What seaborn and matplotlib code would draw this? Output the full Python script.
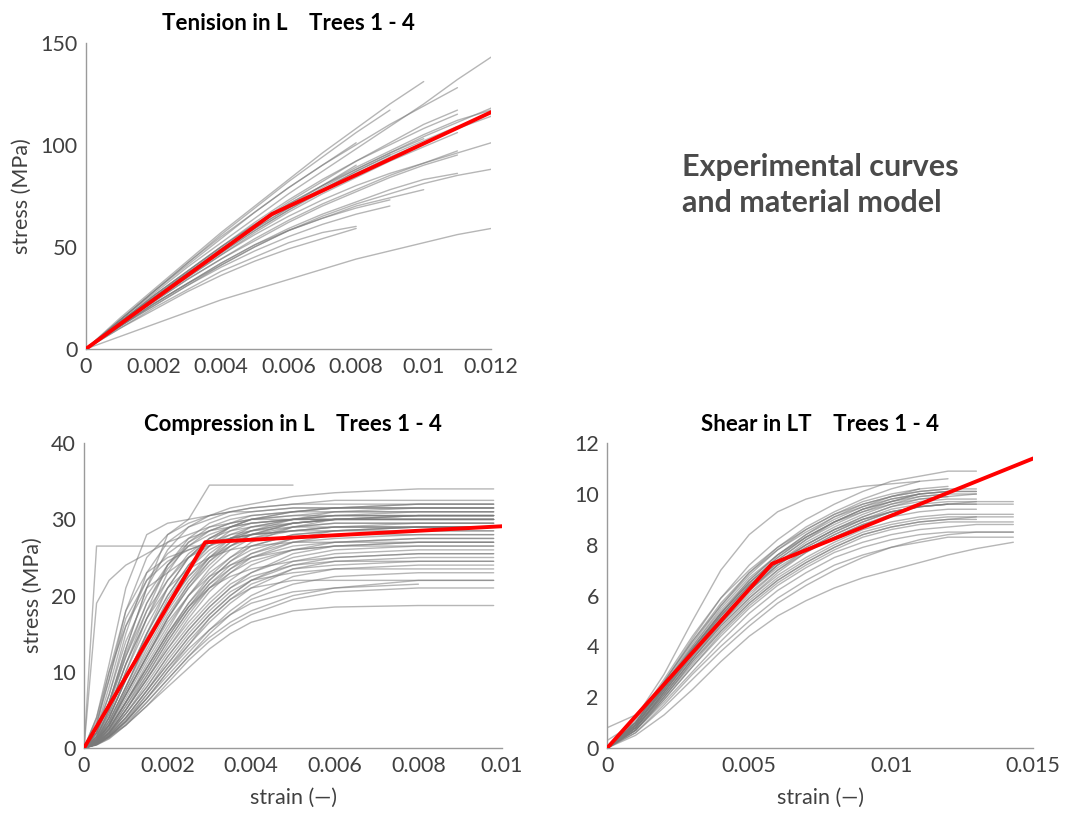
import numpy as np
import pandas as pd
import matplotlib
matplotlib.use("Agg")
import matplotlib.pyplot as plt
import seaborn as sns
from matplotlib.ticker import FormatStrFormatter

nan = np.nan

# --- Tension in L : stress (MPa) read at fixed strain points ---
tension_strain = [0, 0.001, 0.002, 0.003, 0.004, 0.005, 0.006, 0.007, 0.008, 0.009, 0.010, 0.011, 0.012]
tension_curves = [
    [0, 14, 27, 40, 52, 64, 76, 87, 98, 109, 120, 132, 143],
    [0, 15, 29, 43, 57, 70, 83, 96, 108, 120, 131, nan, nan],
    [0, 14, 28, 42, 55, 67, 79, 90, 100, 110, 119, 128, nan],
    [0, 14, 28, 42, 56, 69, 82, 94, 106, 117, nan, nan, nan],
    [0, 14, 28, 41, 54, 67, 79, 90, 101, nan, nan, nan, nan],
    [0, 13, 26, 38, 50, 61, 71, 80, 88, 96, 104, 111, 118],
    [0, 13, 26, 38, 50, 62, 73, 83, 92, 100, 108, 115, nan],
    [0, 13, 25, 37, 49, 60, 71, 80, 89, 97, 105, 112, 117],
    [0, 12, 25, 37, 48, 59, 69, 78, 87, 95, 102, 109, nan],
    [0, 12, 24, 36, 47, 58, 68, 77, 86, 94, 101, 108, 114],
    [0, 12, 24, 35, 46, 57, 67, 76, 84, 92, 99, 106, nan],
    [0, 13, 25, 37, 48, 59, 69, 79, 88, 96, 103, nan, nan],
    [0, 13, 25, 37, 49, 60, 70, 80, 90, nan, nan, nan, nan],
    [0, 12, 24, 35, 46, 56, 65, 73, 80, 86, 91, 96, 101],
    [0, 12, 23, 34, 44, 53, 62, 70, 77, 84, 90, 95, nan],
    [0, 12, 23, 34, 44, 54, 63, 71, 78, 85, 91, 97, nan],
    [0, 11, 21, 31, 41, 50, 58, 65, 71, 76, 81, 85, 88],
    [0, 11, 22, 32, 42, 51, 59, 66, 72, 78, 83, 86, nan],
    [0, 11, 22, 32, 41, 50, 58, 64, 70, 74, 78, nan, nan],
    [0, 11, 22, 32, 42, 51, 58, 64, 69, 73, nan, nan, nan],
    [0, 11, 21, 31, 40, 48, 55, 61, 66, 70, nan, nan, nan],
    [0, 10, 20, 29, 38, 45, 52, 57, 60, nan, nan, nan, nan],
    [0, 10, 19, 28, 36, 43, 49, 54, 59, nan, nan, nan, nan],
    [0, 6, 12, 18, 24, 29, 34, 39, 44, 48, 52, 56, 59],
    [0, 12, 24, 36, 47, 58, 68, 78, 87, 95, nan, nan, nan],
    [0, 13, 26, 38, 50, 61, 72, 82, 92, 101, 110, 117, nan],
]
tension_model_strain = [0, 0.0055, 0.012]
tension_model_stress = [0, 66, 116]

# --- Compression in L ---
comp_strain = [0, 0.0003, 0.0006, 0.001, 0.0015, 0.002, 0.0025, 0.003, 0.0035, 0.004, 0.005, 0.006, 0.008, 0.0098]
comp_curves = [
    [0, 4, 11, 21, 28, 29.5, 30, 30.5, 31, 31, 31.5, 31.5, 31.5, 31.5],
    [0, 19, 22, 24, 25.5, 27, 28, 29, 29.5, 30, 30, 30, 30, 30],
    [0, 2, 6, 13, 21, 28, 30, 34.5, 34.5, 34.5, 34.5, nan, nan, nan],
    [0, 26.5, 26.5, 26.5, 26.5, 26.5, 26.5, 26.5, nan, nan, nan, nan, nan, nan],
    [0, 3, 9, 18, 25, 28, 29.5, 30.5, 31, 31.5, 32, 32, 32, 32],
    [0, 2, 7, 15, 23, 27, 29, 30, 31, 31.5, 32, 32.5, 32.5, 32.5],
    [0, 2, 6, 13, 21, 26, 29, 30.5, 31.5, 32, 33, 33.5, 34, 34],
    [0, 1.5, 5, 11, 18, 24, 27.5, 29.5, 30.5, 31, 31.5, 31.5, 31.5, 31.5],
    [0, 1.5, 4.5, 10, 17, 23, 27, 29, 30, 30.5, 31, 31, 31, 31],
    [0, 1, 4, 9, 15, 21, 25, 27.5, 29, 30, 30.5, 30.5, 30.5, 30.5],
    [0, 1, 3.5, 8, 14, 19, 23.5, 26.5, 28.5, 29.5, 30, 30, 30, 30],
    [0, 1, 3, 7, 12, 17, 21.5, 25, 27.5, 29, 30, 30.5, 30.5, 30.5],
    [0, 1, 3, 7, 12, 17, 21, 24, 26.5, 28, 29.5, 30, 30, 30],
    [0, 0.8, 2.5, 6, 11, 15.5, 20, 23.5, 26, 27.5, 29, 29.5, 29.5, 29.5],
    [0, 0.8, 2.5, 6, 10, 14.5, 18.5, 22, 24.5, 26.5, 28, 28.5, 29, 29],
    [0, 0.7, 2, 5, 9, 13, 17, 20.5, 23, 25, 27, 28, 28.5, 28.5],
    [0, 0.7, 2, 5, 9, 13, 16.5, 19.5, 22, 24, 26, 27, 27.5, 27.5],
    [0, 0.6, 2, 4.5, 8, 12, 15.5, 18.5, 21, 23, 25.5, 26.5, 27, 27],
    [0, 0.6, 1.8, 4, 7.5, 11, 14.5, 17.5, 20, 22, 24.5, 25.5, 26, 26],
    [0, 0.5, 1.5, 3.5, 7, 10.5, 13.5, 16.5, 19, 21, 23.5, 24.5, 25, 25],
    [0, 0.5, 1.5, 3.5, 6.5, 9.5, 12.5, 15.5, 18, 20, 22.5, 23.5, 24, 24],
    [0, 0.5, 1.5, 3, 6, 9, 12, 14.5, 16.5, 18, 20, 21, 22, 22],
    [0, 0.4, 1.2, 3, 5.5, 8, 10.5, 13, 15, 16.5, 18, 18.5, 18.7, 18.7],
    [0, 0.5, 1.5, 3.5, 6.5, 10, 13, 15.5, 17.5, 19, 20.5, 21, 21.5, nan],
    [0, 1, 3.5, 8, 13.5, 18.5, 22.5, 25.5, 27.5, 28.5, 29.5, 30, 30.5, 30.5],
    [0, 1.5, 5, 11, 17, 22, 25.5, 27.5, 28.5, 29, 29.5, 30, 30, 30],
    [0, 1.2, 4, 9, 15, 20, 24, 26.5, 28, 29, 30, 30.5, 31, 31],
    [0, 2, 6, 12, 18, 22, 25, 27, 28, 28.5, 29, 29, 29, 29],
    [0, 0.8, 3, 7, 12, 16.5, 20, 22.5, 24, 25, 26, 26.5, 26.5, 26.5],
    [0, 0.7, 2.5, 6, 10.5, 15, 18.5, 21, 22.5, 23.5, 24.5, 25, 25.5, 25.5],
    [0, 2.5, 8, 16, 22, 25.5, 27.5, 28.5, 29, 29.5, 30, 30, 30, 30],
    [0, 3, 10, 18, 23, 25, 26, 27, 27.5, 28, 28.5, 28.5, 28.5, 28.5],
    [0, 1, 3, 7.5, 13, 18, 22, 25, 27, 28, 29, 29.5, 29.5, 29.5],
    [0, 0.6, 2, 5, 9.5, 14, 18, 21.5, 24, 25.5, 27, 27.5, 28, 28],
    [0, 0.5, 1.8, 4.5, 8, 12, 15.5, 18.5, 21, 22.5, 24, 24.5, 24.5, 24.5],
    [0, 0.5, 1.6, 4, 7.5, 11.5, 15, 18, 20.5, 22, 23, 23.5, 23.5, 23.5],
    [0, 1.5, 5, 11, 17, 21, 23.5, 25, 26, 26.5, 27, 27, 27, 27],
    [0, 1.2, 4, 9, 15, 20, 24, 27, 29, 30, 31, 31.5, 32, 32],
    [0, 0.9, 3, 7, 12, 17, 21, 24.5, 27, 28.5, 30, 31, 31.5, 31.5],
    [0, 4, 10, 16, 21, 23, 25, 26.5, 27.5, 28, 28.5, 29, 29, 29],
    [0, 0.4, 1.3, 3, 5.5, 8.5, 11.5, 14, 16, 17.5, 19.5, 20.5, 21, 21],
    [0, 0.5, 1.5, 3.5, 6.5, 10, 13.5, 17, 19.5, 21, 22, 22, 22, 22],
    [0, 1.2, 3.5, 8, 14, 19.5, 23.5, 26, 27.5, 28.5, 29.5, 30, 30.5, 30.5],
    [0, 0.9, 2.8, 6.5, 11.5, 16, 20, 23, 25, 26.5, 28, 28.5, 29, 29],
    [0, 0.7, 2.2, 5.5, 10, 14.5, 18.5, 21.5, 23.5, 25, 26.5, 27, 27.5, 27.5],
    [0, 0.6, 2, 5, 9, 13.5, 17.5, 21, 23.5, 25.5, 27.5, 28.5, 29, 29],
    [0, 1.8, 5.5, 12, 19, 24, 27, 28.5, 29.5, 30, 30.5, 31, 31, 31],
    [0, 1.4, 4.5, 10, 16, 21, 25, 27.5, 29, 30, 31, 31.5, 32, 32],
    [0, 0.8, 2.6, 6, 10.5, 15, 19, 22, 24.5, 26, 27.5, 28, 28, 28],
    [0, 0.5, 1.7, 4, 7.5, 11, 14.5, 17.5, 20, 22, 24, 25, 25.5, 25.5],
    [0, 0.6, 1.9, 4.5, 8.5, 12.5, 16, 19, 21.5, 23, 25, 26, 26.5, 26.5],
    [0, 2.5, 7, 14, 20, 24, 26.5, 28, 29, 29.5, 30, 30.5, 30.5, 30.5],
    [0, 3.5, 9, 17, 22, 24.5, 26, 27, 27.5, 28, 28.5, 29, 29.5, 29.5],
    [0, 1, 3.2, 7.5, 12.5, 17.5, 21.5, 24.5, 26.5, 28, 29.5, 30, 30, 30],
    [0, 0.7, 2.3, 5.5, 9.5, 14, 18, 21, 23, 24.5, 26, 26.5, 27, 27],
    [0, 0.5, 1.6, 3.8, 7, 10.5, 14, 17, 19.5, 21.5, 23.5, 24, 24.5, 24.5],
    [0, 1.3, 4, 9, 14.5, 19, 22.5, 25, 26.5, 27.5, 28.5, 29, 29, 29],
    [0, 2, 6, 12.5, 19, 23.5, 26.5, 28.5, 29.5, 30.5, 31, 31.5, 31.5, 31.5],
    [0, 0.8, 2.5, 6, 10.5, 15, 19, 22.5, 25, 27, 29, 30, 30.5, 30.5],
    [0, 0.45, 1.4, 3.3, 6, 9, 12, 15, 17.5, 19.5, 21.5, 22.5, 23, 23],
]
comp_model_strain = [0, 0.0029, 0.01]
comp_model_stress = [0, 27, 29.1]

# --- Shear in LT ---
shear_strain = [0, 0.001, 0.002, 0.003, 0.004, 0.005, 0.006, 0.007, 0.008, 0.009, 0.010, 0.011, 0.012, 0.013, 0.0143]
shear_curves = [
    [0, 1.2, 2.9, 5.0, 7.0, 8.4, 9.3, 9.8, 10.1, 10.3, 10.4, 10.5, nan, nan, nan],
    [0, 1.0, 2.6, 4.3, 5.9, 7.2, 8.2, 9.0, 9.6, 10.1, 10.5, 10.7, 10.9, 10.9, nan],
    [0, 1.0, 2.5, 4.1, 5.6, 6.9, 7.9, 8.7, 9.3, 9.8, 10.2, 10.5, 10.6, nan, nan],
    [0, 1.0, 2.5, 4.0, 5.4, 6.6, 7.6, 8.4, 9.0, 9.5, 9.9, 10.2, 10.3, nan, nan],
    [0, 0.9, 2.4, 3.9, 5.3, 6.5, 7.4, 8.2, 8.8, 9.3, 9.7, 10.0, 10.1, 10.1, nan],
    [0, 0.9, 2.3, 3.8, 5.2, 6.4, 7.3, 8.0, 8.6, 9.1, 9.5, 9.7, 9.8, 9.8, nan],
    [0, 0.9, 2.3, 3.7, 5.0, 6.2, 7.1, 7.8, 8.4, 8.9, 9.3, 9.5, 9.6, 9.7, 9.7],
    [0, 0.8, 2.2, 3.6, 4.9, 6.1, 7.0, 7.7, 8.3, 8.8, 9.1, 9.3, 9.4, 9.4, nan],
    [0, 0.8, 2.1, 3.5, 4.8, 5.9, 6.8, 7.5, 8.1, 8.6, 8.9, 9.1, 9.2, 9.2, 9.2],
    [0, 0.8, 2.0, 3.4, 4.6, 5.7, 6.6, 7.3, 7.9, 8.4, 8.7, 8.9, 9.0, 9.0, nan],
    [0, 0.7, 1.9, 3.2, 4.4, 5.5, 6.4, 7.1, 7.7, 8.1, 8.4, 8.6, 8.7, 8.8, 8.8],
    [0, 0.7, 1.8, 3.0, 4.2, 5.3, 6.2, 6.9, 7.5, 7.9, 8.2, 8.4, 8.5, 8.5, 8.5],
    [0, 0.6, 1.7, 2.9, 4.0, 5.0, 5.9, 6.6, 7.2, 7.6, 7.9, 8.1, 8.3, 8.3, 8.3],
    [0, 1.1, 2.7, 4.4, 5.9, 7.0, 7.9, 8.6, 9.2, 9.6, 9.9, 10.1, 10.2, nan, nan],
    [0, 1.0, 2.6, 4.2, 5.6, 6.8, 7.8, 8.6, 9.2, 9.7, 10.0, 10.2, nan, nan, nan],
    [0, 0.9, 2.4, 3.9, 5.3, 6.6, 7.6, 8.4, 9.1, 9.6, 9.9, 10.1, 10.2, 10.2, nan],
    [0, 0.9, 2.3, 3.8, 5.2, 6.4, 7.4, 8.2, 8.9, 9.4, 9.8, 10.0, 10.1, nan, nan],
    [0, 0.8, 2.2, 3.6, 5.0, 6.2, 7.2, 8.0, 8.6, 9.1, 9.5, 9.8, 9.9, 10.0, nan],
    [0, 0.8, 2.1, 3.5, 4.8, 5.9, 6.9, 7.7, 8.3, 8.8, 9.2, 9.5, 9.6, 9.6, 9.6],
    [0, 0.7, 2.0, 3.3, 4.6, 5.7, 6.6, 7.3, 7.9, 8.4, 8.7, 8.9, 9.0, 9.1, nan],
    [0, 0.6, 1.6, 2.7, 3.8, 4.8, 5.7, 6.4, 7.0, 7.5, 7.9, 8.2, 8.4, 8.5, 8.5],
    [0.8, 1.3, 2.5, 3.9, 5.2, 6.4, 7.3, 8.0, 8.6, 9.0, 9.3, 9.5, 9.6, nan, nan],
    [0.3, 1.0, 2.4, 3.9, 5.3, 6.5, 7.5, 8.3, 8.9, 9.4, 9.7, 10.0, nan, nan, nan],
    [0, 0.9, 2.4, 4.0, 5.5, 6.7, 7.6, 8.3, 8.9, 9.3, 9.6, 9.8, 9.9, nan, nan],
    [0, 0.8, 2.2, 3.7, 5.1, 6.3, 7.3, 8.1, 8.7, 9.2, 9.6, 9.9, 10.0, 10.0, nan],
    [0, 0.9, 2.4, 3.9, 5.3, 6.5, 7.5, 8.3, 8.9, 9.4, 9.7, 9.9, 10.0, nan, nan],
    [0, 0.8, 2.2, 3.7, 5.0, 6.2, 7.2, 7.9, 8.5, 9.0, 9.4, 9.6, 9.7, 9.7, nan],
    [0, 1.0, 2.6, 4.2, 5.7, 6.9, 7.8, 8.5, 9.1, 9.5, 9.8, 10.0, 10.1, 10.1, nan],
    [0, 0.8, 2.1, 3.5, 4.9, 6.0, 7.0, 7.8, 8.4, 8.9, 9.3, 9.5, 9.6, 9.6, nan],
    [0, 0.7, 2.0, 3.4, 4.7, 5.8, 6.7, 7.4, 8.0, 8.5, 8.8, 9.0, 9.1, 9.1, 9.1],
    [0, 0.9, 2.3, 3.8, 5.1, 6.3, 7.2, 7.9, 8.5, 9.0, 9.3, 9.5, nan, nan, nan],
    [0, 0.7, 1.9, 3.2, 4.5, 5.6, 6.5, 7.2, 7.8, 8.3, 8.6, 8.8, 8.9, 8.9, 8.9],
    [0, 0.5, 1.3, 2.3, 3.4, 4.4, 5.2, 5.8, 6.3, 6.7, 7.0, 7.3, 7.6, 7.85, 8.1],
]
shear_model_strain = [0, 0.0058, 0.015]
shear_model_stress = [0, 7.25, 11.4]


def to_long(strain, curves):
    rows = []
    for i, c in enumerate(curves):
        for s, v in zip(strain, c):
            if not np.isnan(v):
                rows.append((i, s, v))
    return pd.DataFrame(rows, columns=["curve", "strain", "stress"])


sns.set_style("white")
plt.rcParams["font.family"] = ["Lato", "DejaVu Sans"]
txt_col = "#404040"
axis_col = "#9a9a9a"

fig = plt.figure(figsize=(10.69, 8.15), dpi=100)
ax1 = fig.add_axes([0.0805, 0.572, 0.379, 0.3755])
ax2 = fig.add_axes([0.0786, 0.0822, 0.391, 0.374])
ax3 = fig.add_axes([0.568, 0.0822, 0.3985, 0.374])

panels = [
    (ax1, tension_strain, tension_curves, tension_model_strain, tension_model_stress,
     "Tenision in L    Trees 1 - 4", (0, 0.012), np.arange(0, 0.0121, 0.002), (0, 150), [0, 50, 100, 150], True, False),
    (ax2, comp_strain, comp_curves, comp_model_strain, comp_model_stress,
     "Compression in L    Trees 1 - 4", (0, 0.01), np.arange(0, 0.0101, 0.002), (0, 40), [0, 10, 20, 30, 40], True, True),
    (ax3, shear_strain, shear_curves, shear_model_strain, shear_model_stress,
     "Shear in LT    Trees 1 - 4", (0, 0.015), [0, 0.005, 0.01, 0.015], (0, 12), [0, 2, 4, 6, 8, 10, 12], False, True),
]

for ax, st, cv, ms, mv, title, xl, xt, yl, yt, ylab, xlab in panels:
    df = to_long(st, cv)
    sns.lineplot(data=df, x="strain", y="stress", units="curve", estimator=None,
                 color="#7a7a7a", alpha=0.55, linewidth=1.0, ax=ax)
    sns.lineplot(x=ms, y=mv, color="#ff0000", linewidth=2.8, ax=ax, zorder=5)
    ax.set_xlim(*xl)
    ax.set_ylim(*yl)
    ax.set_xticks(xt)
    ax.set_yticks(yt)
    ax.xaxis.set_major_formatter(FormatStrFormatter("%g"))
    ax.set_title(title, fontsize=16, fontweight="bold", color="black", pad=9)
    ax.set_ylabel("stress (MPa)" if ylab else "", fontsize=15.5, color=txt_col, labelpad=6)
    ax.set_xlabel("strain (\u2014)" if xlab else "", fontsize=15.5, color=txt_col, labelpad=8)
    for side in ["top", "right"]:
        ax.spines[side].set_visible(False)
    for side in ["left", "bottom"]:
        ax.spines[side].set_color(axis_col)
        ax.spines[side].set_linewidth(1.0)
    ax.tick_params(direction="in", length=4, width=0.8, color=axis_col,
                   labelsize=15.5, labelcolor=txt_col, pad=6)
    for lbl in ax.get_xticklabels() + ax.get_yticklabels():
        lbl.set_clip_on(False)

fig.text(0.638, 0.773, "Experimental curves\nand material model", fontsize=22,
         fontweight="bold", color="#4a4a4a", ha="left", va="center", linespacing=1.35)

fig.savefig("out.png", dpi=100)
